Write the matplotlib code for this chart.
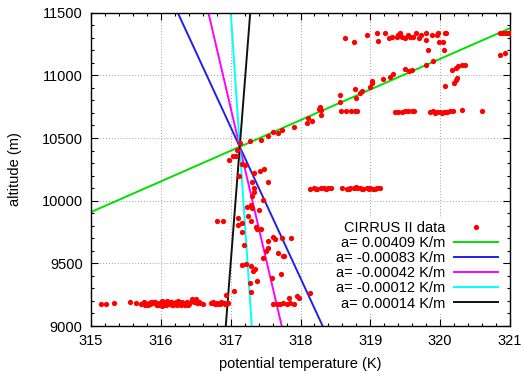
import matplotlib
matplotlib.use("Agg")
import matplotlib.pyplot as plt
from matplotlib.ticker import MultipleLocator
import numpy as np

plt.rcParams['font.family'] = ['Liberation Sans', 'DejaVu Sans']

# ---- data ----
# low-level horizontal leg (~9175 m)
theta_low = [315.14, 315.21, 315.33, 315.56, 315.64, 315.72, 315.75, 315.78, 315.80, 315.83,
             315.85, 315.88, 315.90, 315.93, 315.95, 315.98, 316.00, 316.03, 316.05, 316.08,
             316.10, 316.13, 316.15, 316.18, 316.20, 316.23, 316.25, 316.28, 316.30, 316.33,
             316.36, 316.40, 316.44, 316.51, 316.48, 316.52, 316.56, 316.60, 316.72, 316.75,
             316.78, 316.81, 316.84, 316.87, 316.90, 316.93, 316.96,
             315.82, 315.90, 315.97, 316.04, 316.11, 316.18, 316.26, 316.34, 316.41,
             315.86, 315.94, 316.01, 316.07, 316.14, 316.21, 316.29, 316.37, 316.45,
             315.76, 315.92, 316.02, 316.09, 316.16, 316.24, 316.31, 316.39, 316.55,
             316.74, 316.80, 316.86, 316.92,
             317.61, 317.66, 317.71, 317.75, 317.80, 317.85, 317.90, 317.83, 317.95, 317.98, 318.14]
z_low = [9178, 9178, 9180, 9190, 9180, 9175, 9182, 9170, 9178, 9186,
         9172, 9180, 9188, 9175, 9170, 9182, 9176, 9168, 9185, 9178,
         9172, 9180, 9188, 9175, 9182, 9170, 9178, 9186, 9180, 9175,
         9184, 9178, 9213, 9213, 9190, 9185, 9180, 9178, 9182, 9180,
         9178, 9182, 9176, 9180, 9184, 9178, 9182,
         9168, 9190, 9165, 9192, 9188, 9166, 9190, 9168, 9186,
         9194, 9166, 9196, 9164, 9195, 9192, 9165, 9194, 9196,
         9190, 9195, 9162, 9198, 9164, 9196, 9194, 9166, 9192,
         9190, 9172, 9188, 9172,
         9175, 9178, 9172, 9180, 9176, 9182, 9178, 9226, 9236, 9220, 9260]

# scattered points in the descent near 317 K
theta_mid = [316.93, 317.05, 317.27, 317.29, 317.38, 317.16, 317.22, 317.29, 317.32, 317.35,
             317.46, 317.51, 317.68, 317.76, 317.59, 317.72, 317.54, 317.53, 317.61, 317.63,
             317.73, 317.19, 317.16, 317.36, 317.38, 317.44, 317.25, 317.29, 317.10, 317.10,
             316.80, 316.89, 317.23, 317.29, 317.30, 317.41, 317.46, 317.34, 317.33, 317.30,
             317.53, 317.30, 317.12, 317.34, 317.42, 317.47, 317.16, 317.21, 316.97, 317.04,
             317.08, 317.09, 317.13, 317.28, 317.43, 317.75, 317.87, 317.16]
z_mid = [9245, 9279, 9346, 9271, 9362, 9483, 9498, 9478, 9438, 9452,
         9539, 9597, 9580, 9560, 9383, 9412, 9624, 9677, 9714, 9691,
         9704, 9644, 9752, 9791, 9775, 9775, 9881, 9836, 9863, 9802,
         9836, 9836, 9951, 9969, 9943, 9929, 10009, 10102, 10067, 10041,
         10146, 10146, 10195, 10218, 10235, 10250, 10295, 10285, 10325, 10360,
         10354, 10407, 10461, 10473, 10481, 9557, 9704, 9823]

# ascent along the isentrope / upper legs
theta_high = [317.53, 317.60, 317.68, 317.73, 317.90, 318.11, 318.16, 318.10, 318.28, 318.26,
              318.30, 318.30, 318.56, 318.57, 318.80, 318.78, 318.88, 318.85, 318.99, 319.02,
              319.03, 319.18, 319.28, 319.33, 319.50, 319.55, 319.59, 319.80, 319.90, 320.07,
              320.20, 320.22, 320.24, 320.17, 320.22, 320.25, 320.31, 320.36, 320.85, 320.93,
              319.82, 320.05,
              318.14, 318.19, 318.24, 318.29, 318.34, 318.39, 318.43,
              318.59, 318.66, 318.71, 318.76, 318.81, 318.85, 318.90, 318.95, 319.00, 319.04,
              319.09, 319.14, 318.22, 318.36, 318.69, 318.79, 318.88, 318.98, 319.06,
              318.58, 318.65, 318.73, 318.78, 318.81,
              319.35, 319.40, 319.45, 319.50, 319.54, 319.59, 319.62,
              319.86, 319.90, 319.95, 320.00, 320.05, 320.10, 320.14, 320.19, 320.31, 320.60,
              319.92, 320.02, 320.08,
              318.63, 318.76, 318.95, 319.09, 319.11, 319.21, 319.26, 319.31, 319.38, 319.40,
              319.43, 319.45, 319.50, 319.54, 319.57, 319.61, 319.66, 319.69, 319.73, 319.80,
              319.80, 319.88, 319.95, 319.97, 320.04, 320.07, 320.09, 319.99,
              320.86, 320.90, 320.94, 320.97, 321.00]
z_high = [10515, 10546, 10540, 10566, 10586, 10663, 10636, 10617, 10750, 10728,
          10686, 10720, 10847, 10784, 10820, 10888, 10872, 10858, 10911, 10938,
          10953, 10972, 10990, 11008, 11047, 11034, 11044, 11084, 11115, 10916,
          10940, 10960, 10975, 11041, 11057, 11072, 11084, 11086, 11162, 11176,
          11203, 11206,
          10096, 10100, 10096, 10098, 10102, 10104, 10104,
          10098, 10096, 10100, 10104, 10102, 10098, 10096, 10100, 10098, 10096,
          10100, 10100, 10090, 10092, 10092, 10110, 10090, 10094, 10092,
          10714, 10716, 10714, 10714, 10714,
          10709, 10711, 10711, 10713, 10714, 10714, 10716,
          10709, 10712, 10711, 10709, 10711, 10711, 10713, 10714, 10725, 10712,
          10703, 10702, 10704,
          11296, 11270, 11322, 11336, 11277, 11336, 11296, 11309, 11309, 11322,
          11336, 11309, 11296, 11322, 11309, 11309, 11341, 11296, 11322, 11336,
          11283, 11322, 11322, 11336, 11269, 11336, 11336, 11270,
          11336, 11336, 11334, 11336, 11336]

# fitted lapse-rate lines through a common pivot
slopes = [0.00409, -0.00083, -0.00042, -0.00012, 0.00014]   # K/m
slope_labels = ['a= 0.00409 K/m', 'a= -0.00083 K/m', 'a= -0.00042 K/m',
                'a= -0.00012 K/m', 'a= 0.00014 K/m']
pivot_theta = 317.13
pivot_z = 10430
line_colors = ['#00e000', '#2020e8', '#ff00ff', '#00ffff', '#101010']

x_ticks = [315, 316, 317, 318, 319, 320, 321]
y_ticks = [9000, 9500, 10000, 10500, 11000, 11500]

# ---- figure ----
fig = plt.figure(figsize=(5.24, 3.73), dpi=100)
ax = fig.add_axes([0.1737, 0.126, 0.7996, 0.840])

theta_all = theta_low + theta_mid + theta_high
z_all = z_low + z_mid + z_high
ax.plot(theta_all, z_all, linestyle='none', marker='o', markersize=3.8,
        color='#ff0000', markeredgewidth=0, label='CIRRUS II data', zorder=3)

zz = np.array([8000.0, 13000.0])
for a, lab, c in zip(slopes, slope_labels, line_colors):
    ax.plot(pivot_theta + a * (zz - pivot_z), zz, color=c, lw=1.4, label=lab, zorder=2)

ax.set_xlim(315, 321)
ax.set_ylim(9000, 11500)
ax.set_xticks(x_ticks)
ax.set_yticks(y_ticks)
ax.xaxis.set_minor_locator(MultipleLocator(0.2))
ax.yaxis.set_minor_locator(MultipleLocator(100))
ax.tick_params(which='both', direction='in', top=True, right=True, labelsize=10.5, color='black')
ax.tick_params(which='major', length=5, width=0.8, pad=6)
ax.tick_params(which='minor', length=2.5, width=0.8)
ax.grid(True, which='major', linestyle=(0, (1, 2)), color='#a0a0a0', lw=0.7)
for s in ax.spines.values():
    s.set_linewidth(1.0)

ax.set_xlabel('potential temperature (K)', fontsize=10.5, labelpad=6)
ax.set_ylabel('altitude (m)', fontsize=10.5, labelpad=14)

leg = ax.legend(loc='lower right', bbox_to_anchor=(0.978, 0.04), markerfirst=False,
                numpoints=1, fontsize=10.5, handlelength=3.0, handletextpad=0.6,
                labelspacing=0.08, frameon=True, framealpha=1, edgecolor='none',
                fancybox=False, borderpad=0.2, borderaxespad=0)
leg.get_frame().set_facecolor('white')

fig.savefig('out.png', dpi=100)
